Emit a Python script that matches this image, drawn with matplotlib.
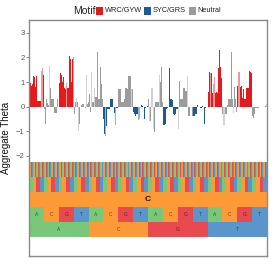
import matplotlib
matplotlib.use("Agg")
import matplotlib.pyplot as plt
from matplotlib.patches import Rectangle
import numpy as np

plt.rcParams['font.family'] = ['Liberation Sans', 'DejaVu Sans']

bases = ['A', 'C', 'G', 'T']
center_base = 'C'
motif_names = ['WRC/GYW', 'SYC/GRS', 'Neutral']
motif_colors = ['#E41A1C', '#1D5A94', '#9C9C9C']
base_colors = {'A': '#79C879', 'C': '#FD9A38', 'G': '#E84A4F', 'T': '#5A96CB'}

# aggregate theta per 5-mer (order: pos -2, -1, [C], +1, +2), 16 values per row
theta = [
    1.15, 0.95, 0.85, 0.90, 1.25, 1.20, 0.80, 0.85, 1.25, 0.22, 0.22, 0.22, 0.22, 1.45, 1.55, 1.30,
    -0.10, -0.70, 0.30, 0.15, 0.05, 0.10, 1.65, 0.75, 0.30, 0.30, 0.30, -0.25, -0.25, -0.25, 0.30, 0.00,
    0.95, 1.35, 1.30, 0.95, 1.00, 1.20, 0.75, 0.70, 0.95, 0.75, 0.75, 2.05, 1.95, 1.00, 1.95, 2.00,
    -0.30, -0.40, 0.20, 0.35, 0.20, -1.00, -0.70, 0.00, 0.05, 0.10, 0.10, 0.00, -0.05, 1.30, 0.10, 0.20,
    0.50, 0.50, -0.20, 1.40, 0.20, 0.20, 0.75, 0.40, 0.40, 2.20, 0.30, 0.30, 1.60, 0.90, 0.40, 0.30,
    -0.50, -1.10, -1.20, -0.80, -0.10, -0.10, -0.10, 0.30, 0.30, 0.30, 0.00, -0.25, -0.30, -0.75, -0.05, -0.05,
    0.70, 0.70, 0.70, 0.20, 0.20, 0.20, 0.30, 0.75, 0.75, 0.70, 0.70, 1.25, 1.25, 1.25, 0.70, 0.70,
    -0.20, -0.30, -0.40, -0.30, -0.30, -0.55, -0.50, 0.00, -0.02, 0.05, 0.03, 0.00, -0.50, -0.05, 0.00, 0.02,
    0.30, -0.60, -0.60, 0.75, 0.75, -0.90, -1.05, 0.20, 0.20, 0.20, 0.20, 0.20, 1.30, 1.00, 1.60, 0.20,
    -0.75, -0.75, -0.70, -0.10, -0.05, -0.05, 0.00, 1.55, 0.30, 0.30, 0.25, -0.30, -0.35, -0.30, -0.10, -0.10,
    -0.90, 1.05, 0.30, 0.30, 0.30, 0.30, 0.75, 0.75, 0.65, 0.65, 1.25, -0.40, -0.40, 0.00, 0.00, -0.40,
    -0.40, -1.15, -0.40, -0.30, -0.30, 0.05, 0.00, 0.00, -0.05, -0.05, 0.02, 0.00, -0.70, -0.05, 0.00, 0.00,
    0.85, 0.60, 1.40, 1.35, 1.35, 0.55, 0.90, 1.20, 0.55, 0.60, 0.55, 1.55, 2.30, 1.60, 1.30, 1.15,
    -0.30, -0.75, -0.75, -0.30, -0.30, 0.05, 0.30, 0.30, 0.30, 2.20, 0.30, -0.25, 0.90, 0.80, 0.30, -0.20,
    0.85, 1.40, 1.40, 0.80, 0.85, 0.35, 0.70, 0.30, 0.30, 0.75, 0.75, 0.75, 0.75, 1.45, 1.40, 1.35,
    -0.40, -0.45, -0.30, -0.05, -0.05, -0.05, -0.05, 0.00, 0.00, 0.00, 0.00, 0.00, 0.00, 0.00, 0.02, 0.10,
]
# positions whose bars appear lighter
light = [0, 13, 14, 22, 40, 47, 51, 53, 61, 67, 70, 78, 82, 93, 110, 117, 118,
         129, 131, 132, 133, 140, 160, 163, 170, 195, 198, 199, 209, 210, 219, 220,
         225, 226, 255]

yticks = [-2, -1, 0, 1, 2, 3]
ylabel = 'Aggregate Theta'
legend_title = 'Motif'

n = len(theta)
idx = np.arange(n)
b0 = idx // 64
b1 = (idx // 16) % 4
b2 = (idx // 4) % 4
b3 = idx % 4

motif = np.full(n, 2)
motif[np.isin(b0, [0, 3]) & np.isin(b1, [0, 2])] = 0
motif[np.isin(b0, [1, 2]) & np.isin(b1, [1, 3])] = 1

fig = plt.figure(figsize=(2.74, 2.74), dpi=100)
ax = fig.add_axes([29 / 274, 1 - 256 / 274, 238 / 274, 236 / 274])

alphas = np.where(np.isin(idx, light), 0.45, 1.0)
for i in range(n):
    ax.bar(i, theta[i], width=1.0, color=motif_colors[motif[i]], alpha=alphas[i],
           linewidth=0, zorder=2)

# sequence tiles
band_top = -2.26
band_h = 0.61
rows = [  # (digits, span, labelled)
    (b3, 1, False),
    (b2, 4, False),
    (None, n, True),
    (b1, 16, True),
    (b0, 64, True),
]


def darker(hexc, f=0.45):
    c = np.array(matplotlib.colors.to_rgb(hexc))
    return tuple(c * f)


for r, (digits, span, lab) in enumerate(rows):
    top = band_top - r * band_h
    bottom = top - band_h
    if digits is None:
        ax.add_patch(Rectangle((-0.5, bottom), n, band_h, facecolor=base_colors[center_base],
                               edgecolor='none', zorder=2))
        ax.text((n - 1) / 2, bottom + band_h / 2, center_base, ha='center', va='center',
                fontsize=6, fontweight='bold', color='#111111', zorder=3)
        continue
    for start in range(0, n, span):
        b = bases[digits[start]]
        ax.add_patch(Rectangle((start - 0.5, bottom), span, band_h, facecolor=base_colors[b],
                               edgecolor='none', zorder=2))
        if lab:
            ax.text(start - 0.5 + span / 2, bottom + band_h / 2, b, ha='center', va='center',
                    fontsize=3.5, color=darker(base_colors[b]), zorder=3)

ax.set_xlim(-0.5, n - 0.5)
ax.set_ylim(-6.07, 3.52)
ax.set_xticks([])
ax.set_yticks(yticks)
ax.set_yticklabels(['\u2212' + str(-t) if t < 0 else str(t) for t in yticks])
ax.tick_params(axis='y', labelsize=5.5, colors='#555555', length=2, width=0.5, pad=1)
for s in ax.spines.values():
    s.set_color('#8a8a8a')
    s.set_linewidth(1.0)
ax.set_ylabel(ylabel, fontsize=7, color='#111111')
ax.yaxis.set_label_coords(-0.075, 0.5)

# legend
fig.text(73 / 274, 1 - 11 / 274, legend_title, fontsize=7.5, ha='left', va='center', color='#222222')
lx = [96, 144, 189]
for k, name in enumerate(motif_names):
    fig.patches.append(Rectangle((lx[k] / 274, 1 - 15 / 274), 7 / 274, 8 / 274,
                                 transform=fig.transFigure, facecolor=motif_colors[k],
                                 edgecolor='none'))
    fig.text((lx[k] + 8.5) / 274, 1 - 11 / 274, name, fontsize=5.3, ha='left', va='center',
             color='#222222')

fig.savefig('out.png', dpi=100)
